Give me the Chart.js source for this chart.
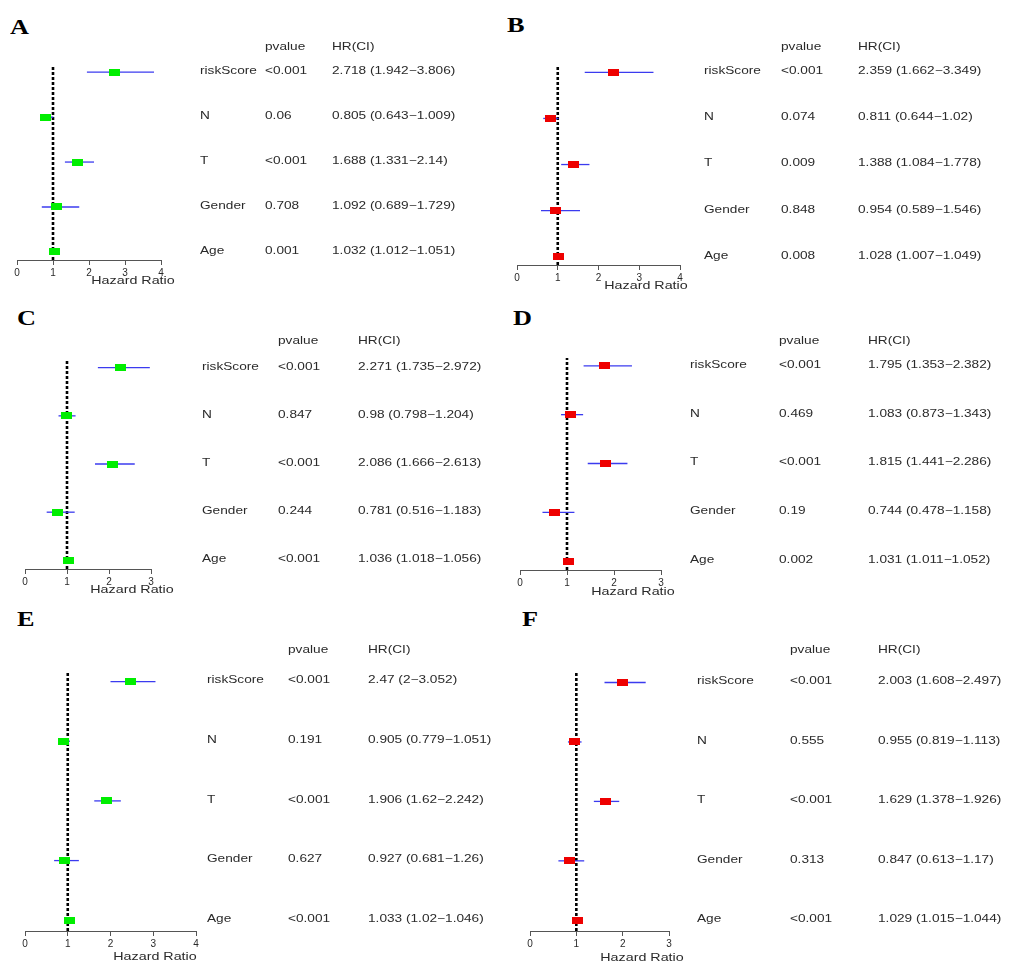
<!DOCTYPE html>
<html>
<head>
<meta charset="utf-8">
<script src="https://cdn.jsdelivr.net/npm/chart.js@4.4.1/dist/chart.umd.min.js"></script>
<style>
  body { margin: 0; background: #fff; }
  #page { position: relative; width: 1012px; height: 963px; overflow: hidden; background: #fff; }
  #page canvas { position: absolute; }
  .tag { position: absolute; font: bold 21px "Liberation Serif", "Times New Roman", serif; line-height: 21px; transform: scaleX(1.25); transform-origin: 0 0; color: #000; }
</style>
</head>
<body>
<div id="page"></div>
<script>
// variables, top to bottom in every panel
const variables = ["riskScore", "N", "T", "Gender", "Age"];

// panel A (green)
const hrA = [2.718, 0.805, 1.688, 1.092, 1.032];
const loA = [1.942, 0.643, 1.331, 0.689, 1.012];
const hiA = [3.806, 1.009, 2.14, 1.729, 1.051];
const pA = ["<0.001", "0.06", "<0.001", "0.708", "0.001"];

// panel B (red)
const hrB = [2.359, 0.811, 1.388, 0.954, 1.028];
const loB = [1.662, 0.644, 1.084, 0.589, 1.007];
const hiB = [3.349, 1.02, 1.778, 1.546, 1.049];
const pB = ["<0.001", "0.074", "0.009", "0.848", "0.008"];

// panel C (green)
const hrC = [2.271, 0.98, 2.086, 0.781, 1.036];
const loC = [1.735, 0.798, 1.666, 0.516, 1.018];
const hiC = [2.972, 1.204, 2.613, 1.183, 1.056];
const pC = ["<0.001", "0.847", "<0.001", "0.244", "<0.001"];

// panel D (red)
const hrD = [1.795, 1.083, 1.815, 0.744, 1.031];
const loD = [1.353, 0.873, 1.441, 0.478, 1.011];
const hiD = [2.382, 1.343, 2.286, 1.158, 1.052];
const pD = ["<0.001", "0.469", "<0.001", "0.19", "0.002"];

// panel E (green)
const hrE = [2.47, 0.905, 1.906, 0.927, 1.033];
const loE = [2, 0.779, 1.62, 0.681, 1.02];
const hiE = [3.052, 1.051, 2.242, 1.26, 1.046];
const pE = ["<0.001", "0.191", "<0.001", "0.627", "<0.001"];

// panel F (red)
const hrF = [2.003, 0.955, 1.629, 0.847, 1.029];
const loF = [1.608, 0.819, 1.378, 0.613, 1.015];
const hiF = [2.497, 1.113, 1.926, 1.17, 1.044];
const pF = ["<0.001", "0.555", "<0.001", "0.313", "<0.001"];

const xTicksMax = { A: 4, B: 4, C: 3, D: 3, E: 4, F: 3 };

const GREEN = "#00ee00";
const RED = "#ee0000";
const BLUE = "#3b3bef";
const TEXT = "#2a2a2a";
const AXIS_H = 30;
const Y_MIN = 0.82, Y_MAX = 5.16;

// page layout of each panel (pixels)
const panels = [
  { tag: "A", hr: hrA, lo: loA, hi: hiA, p: pA, color: GREEN, ox: 0, oy: 0, w: 506, h: 300,
    x0: 17, x1: 161, top: 65, axis: 260, cols: [200, 265, 332], headY: 47, titleX: 133, titleY: 281, tagX: 10, tagY: 17 },
  { tag: "B", hr: hrB, lo: loB, hi: hiB, p: pB, color: RED, ox: 506, oy: 0, w: 506, h: 300,
    x0: 517, x1: 680, top: 65, axis: 265, cols: [704, 781, 858], headY: 47, titleX: 646, titleY: 286, tagX: 507, tagY: 15 },
  { tag: "C", hr: hrC, lo: loC, hi: hiC, p: pC, color: GREEN, ox: 0, oy: 300, w: 506, h: 300,
    x0: 25, x1: 151, top: 360, axis: 569, cols: [202, 278, 358], headY: 341, titleX: 132, titleY: 590, tagX: 17, tagY: 308 },
  { tag: "D", hr: hrD, lo: loD, hi: hiD, p: pD, color: RED, ox: 506, oy: 300, w: 506, h: 300,
    x0: 520, x1: 661, top: 358, axis: 570, cols: [690, 779, 868], headY: 341, titleX: 633, titleY: 592, tagX: 513, tagY: 308 },
  { tag: "E", hr: hrE, lo: loE, hi: hiE, p: pE, color: GREEN, ox: 0, oy: 600, w: 506, h: 363,
    x0: 25, x1: 196, top: 672, axis: 931, cols: [207, 288, 368], headY: 650, titleX: 155, titleY: 957, tagX: 17, tagY: 609 },
  { tag: "F", hr: hrF, lo: loF, hi: hiF, p: pF, color: RED, ox: 506, oy: 600, w: 506, h: 363,
    x0: 530, x1: 669, top: 673, axis: 931, cols: [697, 790, 878], headY: 650, titleX: 642, titleY: 958, tagX: 522, tagY: 609 }
];

Chart.defaults.font.family = "'Liberation Sans', Arial, Helvetica, sans-serif";
Chart.defaults.color = TEXT;

// right-hand table + axis caption, stretched sideways like the original
const forestText = {
  id: "forestText",
  afterDraw(chart, args, o) {
    const ctx = chart.ctx;
    const ys = chart.scales.y;
    const put = (txt, x, y, align) => {
      ctx.save();
      ctx.translate(x, y);
      ctx.scale(o.sx, 1);
      ctx.textAlign = align || "left";
      ctx.fillText(txt, 0, 0);
      ctx.restore();
    };
    ctx.save();
    ctx.fillStyle = TEXT;
    ctx.textBaseline = "middle";
    ctx.font = "10.5px 'Liberation Sans', Arial, sans-serif";
    put("pvalue", o.cols[1], o.headY);
    put("HR(CI)", o.cols[2], o.headY);
    variables.forEach((name, i) => {
      const y = ys.getPixelForValue(variables.length - i) - 1;
      put(name, o.cols[0], y);
      put(o.p[i], o.cols[1], y);
      put(o.hr[i] + " (" + o.lo[i] + "\u2212" + o.hi[i] + ")", o.cols[2], y);
    });
    ctx.font = "11px 'Liberation Sans', Arial, sans-serif";
    put("Hazard Ratio", o.titleX, o.titleY, "center");
    ctx.restore();
  }
};

function boxImage(color) {
  const c = document.createElement("canvas");
  c.width = 11;
  c.height = 7;
  const g = c.getContext("2d");
  g.fillStyle = color;
  g.fillRect(0, 0, 11, 7);
  return c;
}

const page = document.getElementById("page");

panels.forEach((pn) => {
  const tag = document.createElement("div");
  tag.className = "tag";
  tag.textContent = pn.tag;
  tag.style.left = pn.tagX + "px";
  tag.style.top = pn.tagY + "px";
  page.appendChild(tag);

  const canvas = document.createElement("canvas");
  canvas.width = pn.w;
  canvas.height = pn.h;
  canvas.style.left = pn.ox + "px";
  canvas.style.top = pn.oy + "px";
  page.appendChild(canvas);

  const rows = variables.map((v, i) => variables.length - i);
  const datasets = [];

  datasets.push({
    label: "HR",
    data: pn.hr.map((v, i) => ({ x: v, y: rows[i] })),
    pointStyle: boxImage(pn.color),
    pointRadius: 6,
    order: 0
  });

  rows.forEach((r, i) => {
    datasets.push({
      label: "CI " + variables[i],
      data: [{ x: pn.lo[i], y: r }, { x: pn.hi[i], y: r }],
      showLine: true,
      borderColor: BLUE,
      borderWidth: 1.3,
      pointRadius: 0,
      order: 1
    });
  });

  datasets.push({
    label: "HR = 1",
    data: [{ x: 1, y: Y_MIN }, { x: 1, y: Y_MAX }],
    showLine: true,
    borderColor: "#000",
    borderWidth: 2.6,
    borderDash: [3, 2],
    pointRadius: 0,
    order: 2
  });

  new Chart(canvas, {
    type: "scatter",
    data: { datasets: datasets },
    options: {
      responsive: false,
      animation: false,
      devicePixelRatio: 1,
      layout: {
        padding: {
          left: pn.x0 - pn.ox,
          right: pn.w - (pn.x1 - pn.ox),
          top: pn.top - pn.oy,
          bottom: pn.h - (pn.axis - pn.oy) - AXIS_H
        }
      },
      plugins: {
        legend: { display: false },
        tooltip: { enabled: false },
        forestText: {
          sx: 1.3,
          hr: pn.hr, lo: pn.lo, hi: pn.hi, p: pn.p,
          cols: pn.cols.map((c) => c - pn.ox),
          headY: pn.headY - pn.oy,
          titleX: pn.titleX - pn.ox,
          titleY: pn.titleY - pn.oy
        }
      },
      scales: {
        x: {
          type: "linear",
          min: 0,
          max: xTicksMax[pn.tag],
          afterFit: (s) => { s.height = AXIS_H; },
          ticks: { stepSize: 1, color: TEXT, font: { size: 10 }, padding: 2, maxRotation: 0 },
          grid: { drawOnChartArea: false, drawTicks: true, tickLength: 5, color: "#555" },
          border: { display: true, color: "#555", width: 1 }
        },
        y: { display: false, min: Y_MIN, max: Y_MAX }
      }
    },
    plugins: [forestText]
  });
});
</script>
</body>
</html>
